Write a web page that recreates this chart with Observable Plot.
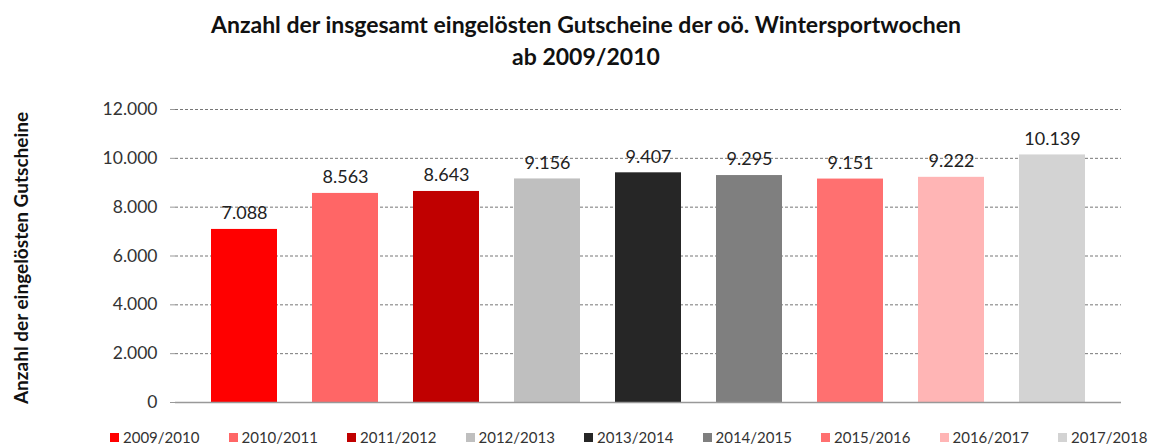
<!DOCTYPE html>
<html>
<head>
<meta charset="utf-8">
<script src="https://cdn.jsdelivr.net/npm/d3@7"></script>
<script src="https://cdn.jsdelivr.net/npm/@observablehq/plot@0.6"></script>
<style>
  html, body { margin: 0; padding: 0; background: #fff; }
  body { width: 1153px; height: 446px; position: relative; overflow: hidden; font-family: Lato, "Open Sans", sans-serif; }
  #title { position: absolute; left: 0; top: 8px; width: 1172px; text-align: center; font-weight: bold; font-size: 23px; line-height: 32px; color: #111; }
  #chart { position: absolute; left: 0; top: 80px; }
  #ylabel { position: absolute; left: 20px; top: 258px; transform: translate(-50%, -50%) rotate(-90deg); white-space: nowrap; font-weight: bold; font-size: 19px; color: #111; }
  #legend { position: absolute; left: 110px; top: 428px; display: flex; font-size: 15px; color: #333; }
  #legend .item { width: 118.5px; display: flex; align-items: center; white-space: nowrap; }
  #legend .sw { width: 9px; height: 9px; margin-right: 4px; display: inline-block; }
</style>
</head>
<body>
<div id="title">Anzahl der insgesamt eingelösten Gutscheine der oö. Wintersportwochen<br>ab 2009/2010</div>
<div id="chart"></div>
<div id="ylabel"></div>
<div id="legend"></div>
<script>
const seasons = ["2009/2010", "2010/2011", "2011/2012", "2012/2013", "2013/2014", "2014/2015", "2015/2016", "2016/2017", "2017/2018"];
const values = [7088, 8563, 8643, 9156, 9407, 9295, 9151, 9222, 10139];
const colors = ["#ff0000", "#ff6666", "#c00000", "#bfbfbf", "#262626", "#7f7f7f", "#ff7070", "#ffb5b5", "#d3d3d3"];
const yTicks = [0, 2000, 4000, 6000, 8000, 10000, 12000];
const yTitle = "Anzahl der eingelösten Gutscheine";

const data = seasons.map((s, i) => ({season: s, value: values[i], color: colors[i]}));
const de = d => d3.format(",")(d).replace(/,/g, ".");

const plot = Plot.plot({
  width: 1153,
  height: 340,
  marginLeft: 175,
  marginRight: 32,
  marginTop: 29,
  marginBottom: 18,
  style: {fontFamily: "Lato, 'Open Sans', sans-serif", fontSize: "17px", color: "#333", background: "#fff"},
  x: {domain: seasons, padding: 0.35, axis: null},
  y: {domain: [0, 12000], ticks: yTicks, tickFormat: de},
  marks: [
    Plot.gridY(yTicks.filter(t => t > 0), {stroke: "#777", strokeOpacity: 1, strokeDasharray: "3,2", strokeWidth: 1}),
    Plot.axisY({ticks: yTicks, tickFormat: de, tickSize: 5, tickPadding: 13, stroke: "#999", fontSize: 17.5, color: "#333", label: null}),
    Plot.barY(data, {x: "season", y: "value", fill: "color"}),
    Plot.ruleY([0], {stroke: "#999", strokeWidth: 1.5}),
    Plot.text(data, {x: "season", y: "value", text: d => de(d.value), dy: -16, fontSize: 18, fill: "#222"})
  ]
});
document.getElementById("chart").appendChild(plot);
document.getElementById("ylabel").textContent = yTitle;

const legend = document.getElementById("legend");
seasons.forEach((s, i) => {
  const item = document.createElement("div");
  item.className = "item";
  item.innerHTML = `<span class="sw" style="background:${colors[i]}"></span>${s}`;
  legend.appendChild(item);
});
</script>
</body>
</html>
